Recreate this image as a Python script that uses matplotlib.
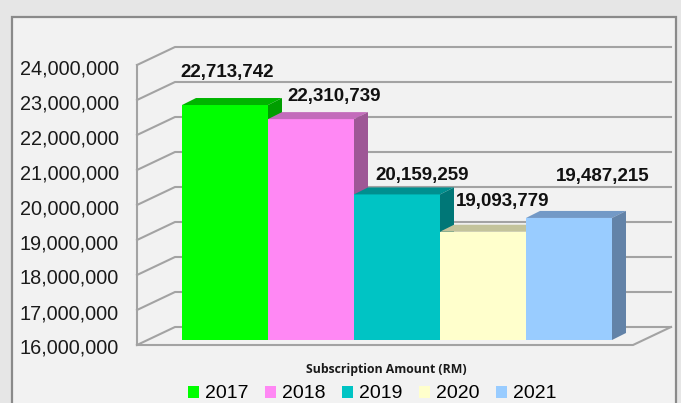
import matplotlib
matplotlib.use("Agg")
import matplotlib.pyplot as plt
from matplotlib.patches import Rectangle, Polygon, Patch
from matplotlib.transforms import offset_copy
import numpy as np

plt.rcParams['font.family'] = ['Liberation Sans', 'DejaVu Sans']

# data
years = ['2017', '2018', '2019', '2020', '2021']
amounts = [22713742, 22310739, 20159259, 19093779, 19487215]
y_ticks = [16000000, 17000000, 18000000, 19000000, 20000000,
           21000000, 22000000, 23000000, 24000000]
axis_title = 'Subscription Amount (RM)'

# styling
front_cols = ['#00ff00', '#ff88f4', '#00c4c4', '#ffffcc', '#99ccff']
top_cols = ['#00b400', '#c36bbb', '#008f8f', '#c3c39b', '#7399c6']
side_cols = ['#009e00', '#9e5796', '#007777', '#a0a080', '#6383a8']
label_off = [(2, 33), (23, 23), (25, 19), (20, 30), (34, 41)]  # px from bar top centre
front_dy = -5               # px, front-left wall edge relative to bar plane
wall_dx, wall_dy = 38, 18   # px depth of the back wall from the front edge
bar_dx, bar_dy = 14, 7      # px depth of each bar
grid_col = '#a3a3a3'

W, H = 681, 403
fig = plt.figure(figsize=(W / 100, H / 100), dpi=100)
fig.patch.set_facecolor('#e6e6e6')

# panel box
fig.patches.append(Rectangle((12 / W, -0.05), (676 - 12) / W, 1.05 - 17 / H,
                             transform=fig.transFigure, facecolor='#f2f2f2',
                             edgecolor='#8a8a8a', lw=1.6, zorder=-1))

ax_l, ax_r, ax_t, ax_b = 137, 633, 60, 340
ax = fig.add_axes([ax_l / W, (H - ax_b) / H, (ax_r - ax_l) / W, (ax_b - ax_t) / H])
ax.set_axis_off()
x = np.arange(len(years))
px_per_x = 86.0
xmin = -0.5 - (182 - ax_l) / px_per_x
xmax = xmin + (ax_r - ax_l) / px_per_x
ax.set_xlim(xmin, xmax)
ax.set_ylim(y_ticks[0], y_ticks[-1])

# pixel -> data helpers
ux = (xmax - xmin) / (ax_r - ax_l)
uy = (y_ticks[-1] - y_ticks[0]) / (ax_b - ax_t)
fy = front_dy * uy
bx, by = wall_dx * ux, fy + wall_dy * uy

# left wall edge, gridlines and floor
ax.plot([xmin, xmin], [y_ticks[0] + fy, y_ticks[-1] + fy], color=grid_col, lw=1.5,
        zorder=1, clip_on=False)
for v in y_ticks:
    ax.plot([xmin, xmin + bx, xmax + bx], [v + fy, v + by, v + by],
            color=grid_col, lw=1.5, zorder=1, clip_on=False)
ax.plot([xmin, xmax, xmax + bx], [y_ticks[0] + fy, y_ticks[0] + fy, y_ticks[0] + by],
        color=grid_col, lw=1.5, zorder=1, clip_on=False)

# y tick labels along the front-left edge
lab_tr = offset_copy(ax.transData, fig=fig, x=-18, y=front_dy - 1.5, units='dots')
for v in y_ticks:
    ax.text(xmin, v, f'{v:,}', transform=lab_tr, ha='right', va='center_baseline',
            fontsize=14.3, color='#1a1a1a', clip_on=False)

# 3d bars
base = y_ticks[0]
bdx, bdy = bar_dx * ux, bar_dy * uy
for i, (xi, v) in enumerate(zip(x, amounts)):
    z = 3 + i
    ax.bar(xi, v - base, bottom=base, width=1.0, color=front_cols[i],
           edgecolor='none', zorder=z)
    l, r = xi - 0.5, xi + 0.5
    ax.add_patch(Polygon([(l, v), (r, v), (r + bdx, v + bdy), (l + bdx, v + bdy)],
                         closed=True, facecolor=top_cols[i], edgecolor='none',
                         zorder=z, clip_on=False))
    ax.add_patch(Polygon([(r, base), (r, v), (r + bdx, v + bdy), (r + bdx, base + bdy)],
                         closed=True, facecolor=side_cols[i], edgecolor='none',
                         zorder=z, clip_on=False))
    ax.annotate(f'{v:,}', (xi, v), xytext=(label_off[i][0] * 0.72, label_off[i][1] * 0.72),
                textcoords='offset points', ha='center', va='center',
                fontsize=13.5, fontweight='bold', color='#111111', zorder=20,
                annotation_clip=False)

fig.text(386 / W, (H - 370) / H, axis_title, ha='center', va='center',
         fontsize=8.8, fontweight='bold', family=['Open Sans', 'DejaVu Sans'],
         color='#1a1a1a')

handles = [Patch(facecolor=c, edgecolor='none') for c in front_cols]
fig.legend(handles, years, loc='center', bbox_to_anchor=(372 / W, (H - 394) / H),
           ncol=5, frameon=False, fontsize=14, handlelength=0.57, handleheight=0.57,
           handletextpad=0.3, columnspacing=0.85, borderpad=0)

fig.savefig('out.png', dpi=100, facecolor=fig.get_facecolor())
